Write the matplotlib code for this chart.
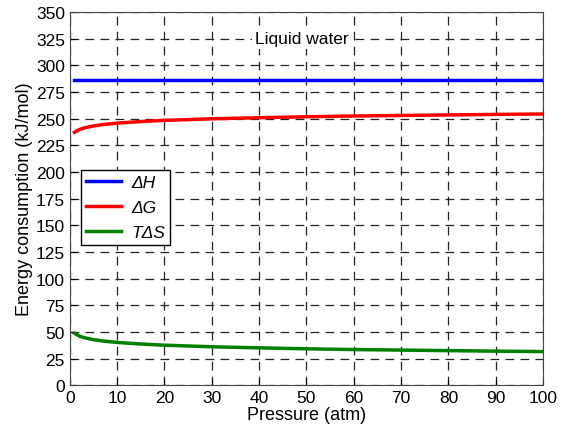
import matplotlib
matplotlib.use('Agg')
import matplotlib.pyplot as plt
import numpy as np

plt.rcParams['font.family'] = ['Liberation Sans', 'DejaVu Sans']

# pressure points (atm)
pressure = [1, 2, 3, 5, 7, 10, 15, 20, 30, 40, 50, 60, 70, 80, 90, 100]
dH = [285.8] * len(pressure)
dG = [237.1, 239.7, 241.2, 243.1, 244.4, 245.7, 247.2, 248.3, 249.8,
      250.8, 251.7, 252.4, 252.9, 253.4, 253.9, 254.3]
TdS = [48.7, 46.1, 44.6, 42.7, 41.4, 40.1, 38.6, 37.5, 36.0,
       35.0, 34.1, 33.4, 32.9, 32.4, 31.9, 31.5]

fig = plt.figure(figsize=(5.67, 4.31), dpi=100)
ax = fig.add_axes([0.123, 0.104, 0.835, 0.866])

ax.plot(pressure, dH, color='#0000ff', lw=2.5, label='ΔH')
ax.plot(pressure, dG, color='#ff0000', lw=2.5, label='ΔG')
ax.plot(pressure, TdS, color='#007f00', lw=2.5, label='TΔS')

ax.set_xlim(0, 100)
ax.set_ylim(0, 350)
ax.set_xticks(np.arange(0, 101, 10))
ax.set_yticks(np.arange(0, 351, 25))
ax.grid(True, color='#222222', ls=(0, (7, 5)), lw=0.9)
ax.tick_params(labelsize=12.5, direction='in', length=4)
for s in ax.spines.values():
    s.set_color('#444444')

ax.set_xlabel('Pressure (atm)', fontsize=13, labelpad=1)
ax.set_ylabel('Energy consumption (kJ/mol)', fontsize=13, labelpad=2)

ax.text(49, 325, 'Liquid water', fontsize=12.5, ha='center', va='center',
        bbox=dict(facecolor='white', edgecolor='none', pad=2))

ax.legend(loc='upper left', bbox_to_anchor=(0.005, 0.6),
          prop={'size': 12.5, 'style': 'italic'},
          handlelength=2.0, handletextpad=0.6, fancybox=False,
          edgecolor='black', framealpha=1, borderpad=0.3, labelspacing=0.55)

plt.savefig('out.png', dpi=100)
